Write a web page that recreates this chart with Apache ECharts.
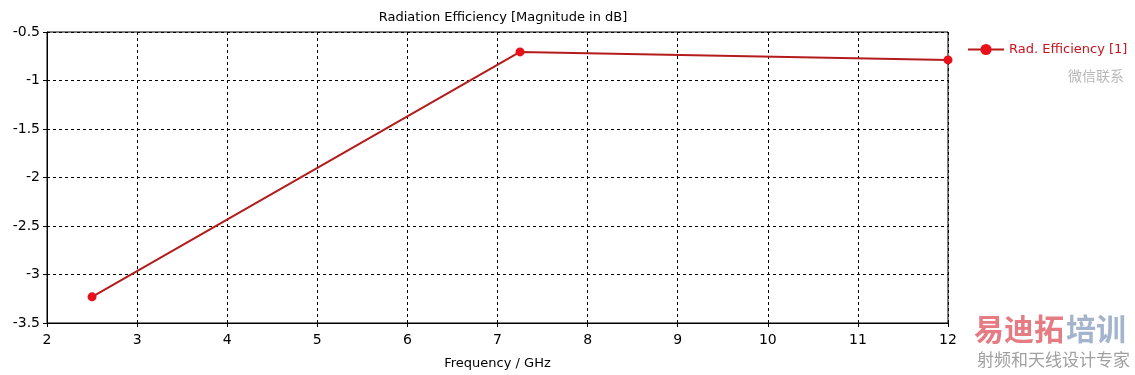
<!DOCTYPE html>
<html><head><meta charset="utf-8">
<script src="https://cdn.jsdelivr.net/npm/echarts@6/dist/echarts.min.js"></script>
<style>html,body{margin:0;padding:0;background:#fff}#c{width:1135px;height:375px}</style>
</head><body><div id="c"></div>
<script>
const freqGHz = [2.5, 7.25, 12];
const radEffdB = [-3.23, -0.705, -0.788];
const xTicks = [2,3,4,5,6,7,8,9,10,11,12];
const yTicks = [-3.5,-3,-2.5,-2,-1.5,-1,-0.5];
const seriesName = 'Rad. Efficiency [1]';
const titleText = 'Radiation Efficiency [Magnitude in dB]';
const xName = 'Frequency / GHz';

const FONT = 'DejaVu Sans';
const chart = echarts.init(document.getElementById('c'));
chart.setOption({
  animation:false,
  backgroundColor:'#fff',
  title:{text:titleText,left:498,top:6,textAlign:'center',
    textStyle:{fontFamily:FONT,fontSize:13,fontWeight:'normal',color:'#000'}},
  grid:{left:47,right:187,top:32,bottom:51,show:true,borderColor:'#000',borderWidth:1,backgroundColor:'transparent'},
  legend:{show:true,left:962,top:38,itemWidth:36,itemHeight:14,itemGap:4,
    data:[{name:seriesName}],
    textStyle:{fontFamily:FONT,fontSize:13,color:'#c8141e'}},
  xAxis:{type:'value',min:xTicks[0],max:xTicks[xTicks.length-1],interval:1,
    name:xName,nameLocation:'middle',nameGap:34,
    nameTextStyle:{fontFamily:FONT,fontSize:13,color:'#000'},
    axisLine:{show:true,lineStyle:{color:'#000',width:1}},
    axisTick:{show:true,length:4,lineStyle:{color:'#000'}},
    axisLabel:{fontFamily:FONT,fontSize:14,color:'#000',margin:10},
    splitLine:{show:true,lineStyle:{color:'#000',type:[3,3],width:1}}},
  yAxis:{type:'value',min:yTicks[0],max:yTicks[yTicks.length-1],interval:0.5,
    axisLine:{show:true,lineStyle:{color:'#000',width:1}},
    axisTick:{show:true,length:4,lineStyle:{color:'#000'}},
    axisLabel:{fontFamily:FONT,fontSize:14,color:'#000',margin:7},
    splitLine:{show:true,lineStyle:{color:'#000',type:[3,3],width:1}}},
  series:[{name:seriesName,type:'line',
    data:freqGHz.map((f,i)=>[f,radEffdB[i]]),
    symbol:'circle',symbolSize:9,showSymbol:true,
    lineStyle:{color:'#b41c1c',width:2},
    itemStyle:{color:'#e8101a'}}],
  graphic:[
    {type:'text',left:1068,top:69,style:{text:'微信联系',fontFamily:'Noto Sans CJK SC',fontSize:14,fill:'#b8b8b8',letterSpacing:3}},
    {type:'text',left:974,top:314,style:{text:'易迪拓',fontFamily:'Noto Sans CJK SC',fontSize:30,fontWeight:'bold',fill:'#e57c84'}},
    {type:'text',left:1066,top:314,style:{text:'培训',fontFamily:'Noto Sans CJK SC',fontSize:30,fontWeight:'bold',fill:'#a3b4cc'}},
    {type:'text',left:977,top:351,style:{text:'射频和天线设计专家',fontFamily:'Noto Sans CJK SC',fontSize:17,fill:'#a0a0a0'}}
  ]
});
</script></body></html>
